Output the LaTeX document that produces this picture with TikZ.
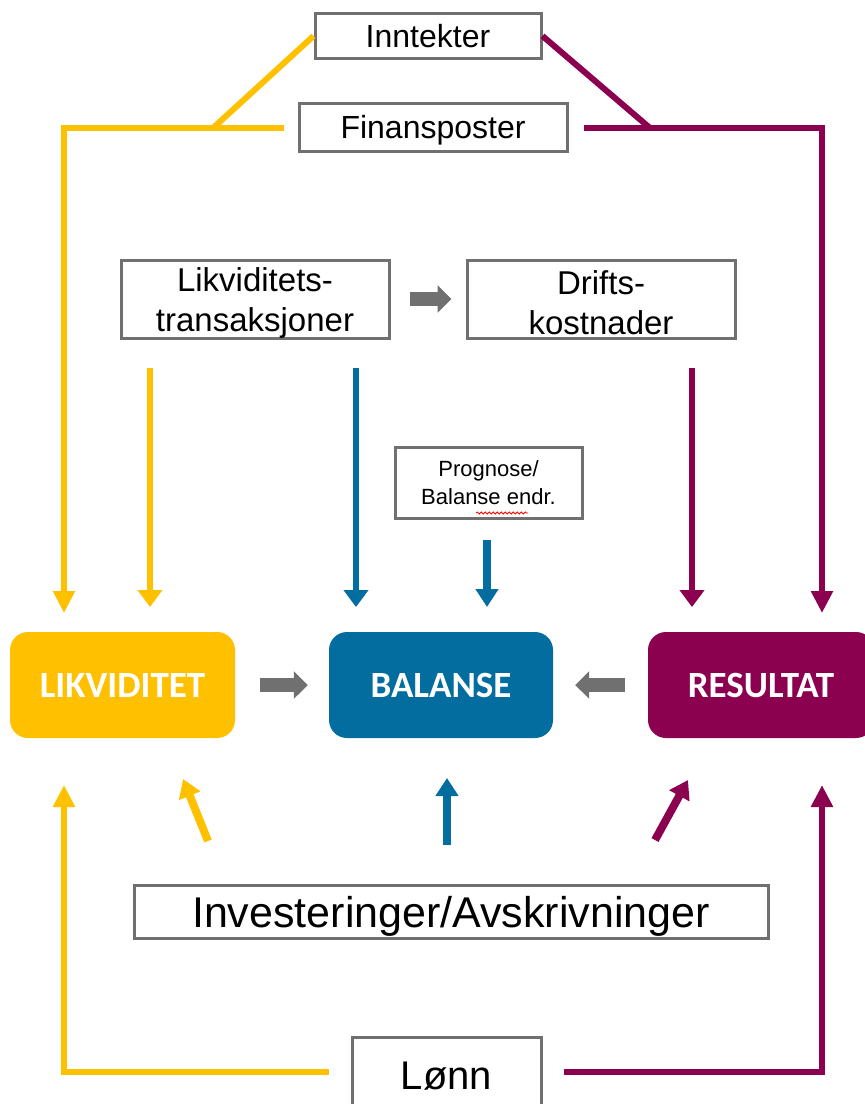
\documentclass[tikz,border=0pt]{standalone}
\usepackage{fontspec}
\setmainfont{Liberation Sans}
\newfontfamily\calib{Carlito}
\usetikzlibrary{arrows.meta,decorations.pathmorphing}
\definecolor{gul}{HTML}{FFC000}
\definecolor{bla}{HTML}{036D9F}
\definecolor{lilla}{HTML}{8B004F}
\definecolor{gra}{HTML}{707070}
\begin{document}
\begin{tikzpicture}[x=1pt,y=-1pt,
  txtbox/.style={draw=gra,line width=3pt,fill=white,inner sep=0pt,align=center,
    font=\fontsize{33}{40}\selectfont},
  tekst/.style={inner sep=0pt,align=center,font=\fontsize{33}{40}\selectfont},
  hovedboks/.style={rounded corners=18pt,inner sep=0pt,minimum width=225pt,minimum height=106pt,
    text=white,font=\calib\bfseries\fontsize{37}{40}\selectfont},
  linje/.style={line width=6pt},
  langpil/.style={line width=6pt,-{Triangle[length=22pt,width=21pt]}},
  kortpil/.style={line width=6pt,-{Triangle[length=17pt,width=24pt]}},
  tykkpil/.style={line width=8pt,-{Triangle[length=18pt,width=22pt]}},
  grapil/.style={gra,line width=14pt,-{Triangle[length=14pt,width=27pt]}}]
\useasboundingbox (0,0) rectangle (865,1104);

% text boxes
\node[txtbox,text height=23pt,text depth=0pt,minimum width=226pt,minimum height=45pt,font=\fontsize{32}{37}\selectfont] (inn) at (428,36) {Inntekter};
\node[txtbox,text height=23pt,text depth=0pt,minimum width=268pt,minimum height=48pt,font=\fontsize{32}{37}\selectfont] (fin) at (433,127) {Finansposter};
\node[txtbox,minimum width=268pt,minimum height=78pt] (likt) at (255,299) {};
\node[tekst] (likt-t) at (255,302.5) {Likviditets-\\transaksjoner};
\node[txtbox,minimum width=268pt,minimum height=78pt] (drift) at (601,299) {};
\node[tekst] (drift-t) at (601,302.5) {Drifts-\\kostnader};
\node[txtbox,minimum width=187pt,minimum height=71pt,font=\fontsize{22}{28}\selectfont] (prog) at (488.5,482.5) {Prognose/\\Balanse endr.};
\node[txtbox,text height=31pt,text depth=0pt,minimum width=634pt,minimum height=53pt,font=\fontsize{43}{48}\selectfont] (inv) at (451,912) {Investeringer/Avskrivninger};
\node[txtbox,text height=28.6pt,text depth=0pt,minimum width=189pt,minimum height=76pt,font=\fontsize{40}{46}\selectfont] (lonn) at (446.5,1075) {Lønn};

% spell-check squiggle
\draw[red,line width=0.8pt,decorate,decoration={snake,amplitude=1pt,segment length=4pt}]
  (476,513) -- (528,513);

% main boxes
\node[hovedboks,fill=gul] (likv) at (122.5,685) {LIKVIDITET};
\node[hovedboks,fill=bla,minimum width=224pt] (bal) at (441,685) {BALANSE};
\node[hovedboks,fill=lilla,minimum width=226pt] (res) at (761,685) {RESULTAT};

% coordinates
\coordinate (yTopL) at (64,128);
\coordinate (yDiag) at (213,128);
\coordinate (yTipL) at (64,613);
\coordinate (pTopR) at (822,128);
\coordinate (pDiag) at (650,128);
\coordinate (pTipR) at (822,613);
\coordinate (yBotL) at (64,1072);
\coordinate (yBotTip) at (64,785);
\coordinate (pBotR) at (822,1072);
\coordinate (pBotTip) at (822,785);

% top frame lines
\draw[gul,linje] (inn.west) -- (yDiag);
\draw[gul,langpil] ([xshift=-14pt,yshift=-1pt]fin.west) -- (yTopL) -- (yTipL);
\draw[lilla,linje] (inn.east) -- (pDiag);
\draw[lilla,langpil] ([xshift=15pt,yshift=-1pt]fin.east) -- (pTopR) -- (pTipR);

% bottom frame lines
\draw[gul,langpil] ([xshift=-22pt,yshift=3pt]lonn.west) -- (yBotL) -- (yBotTip);
\draw[lilla,langpil] ([xshift=21pt,yshift=3pt]lonn.east) -- (pBotR) -- (pBotTip);

% down arrows
\draw[gul,kortpil] (150,368) -- (150,607);
\draw[bla,kortpil] (356,368) -- (356,607);
\draw[lilla,kortpil] (692,368) -- (692,607);
\draw[bla,tykkpil] (487,540) -- (487,607);

% bottom up arrows
\draw[gul,tykkpil] (208,841) -- (183,779);
\draw[bla,tykkpil] (447,845) -- (447,778);
\draw[lilla,tykkpil] (655,840) -- (688,780);

% gray block arrows
\draw[grapil] ([xshift=19pt]likt.east) -- ([xshift=-14pt]drift.west);
\draw[grapil] ([xshift=25pt]likv.east) -- ([xshift=-21pt]bal.west);
\draw[grapil] ([xshift=-23pt]res.west) -- ([xshift=22pt]bal.east);
\end{tikzpicture}
\end{document}
